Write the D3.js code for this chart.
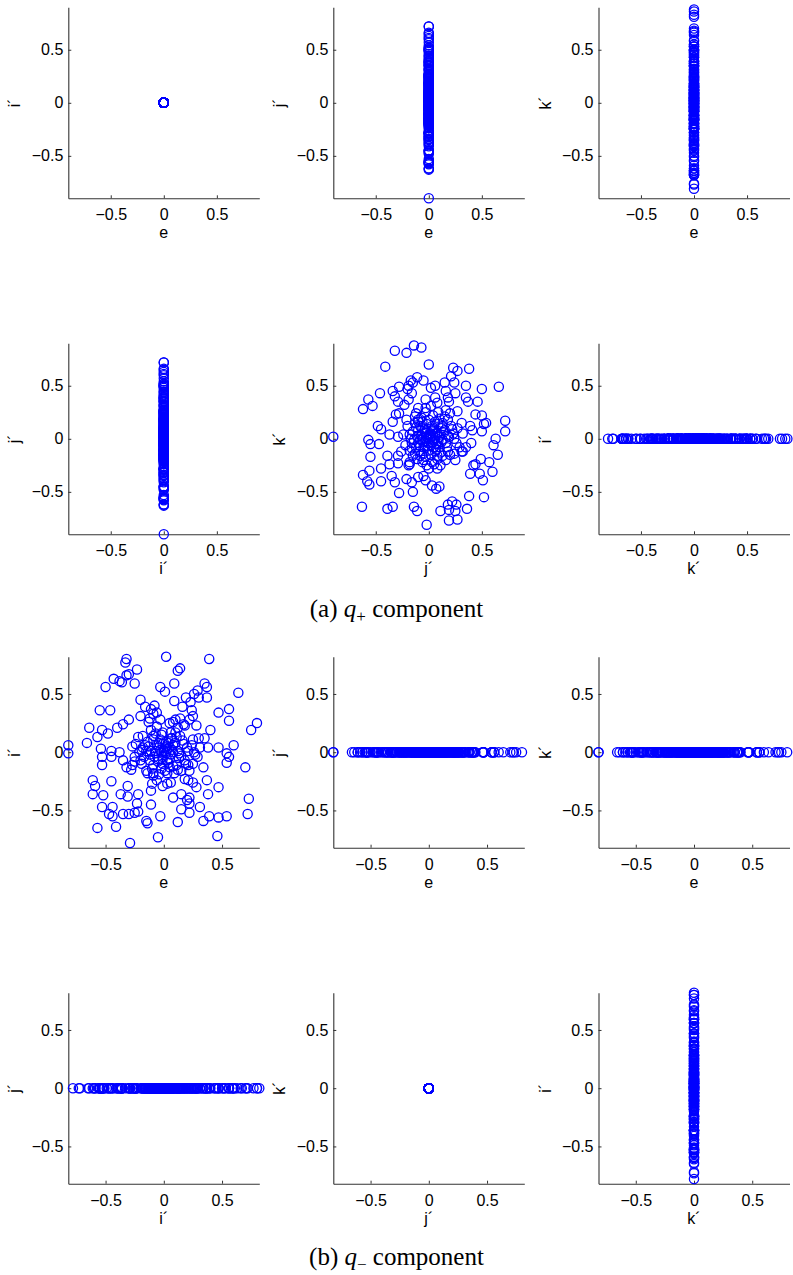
<!DOCTYPE html>
<html>
<head>
<meta charset="utf-8">
<script src="https://cdn.jsdelivr.net/npm/d3@7"></script>
<style>
  body { margin: 0; background: #fff; }
  svg { display: block; }
  .tick text { font-family: "Liberation Sans", Arial, sans-serif; font-size: 16px; fill: #000; }
  .axis-label { font-family: "Liberation Sans", Arial, sans-serif; font-size: 16px; fill: #000; }
  .caption { font-family: "Liberation Serif", "Times New Roman", serif; font-size: 25px; fill: #000; }
</style>
</head>
<body>
<div id="chart"></div>
<script>
// q+ component: [j', k'] pairs (e and i' are all zero)
const plusJK = [
  [-0.14,0.88],[-0.07,0.86],[-0.32,0.83],[-0.21,0.81],[-0.41,0.68],[0.00,0.70],[0.23,0.67],[0.27,0.64],[0.38,0.66],[0.21,0.59],
  [-0.11,0.58],[-0.17,0.55],[-0.15,0.53],[-0.46,0.43],[-0.34,0.45],[-0.28,0.49],[-0.19,0.50],[-0.20,0.47],[-0.16,0.43],[-0.05,0.55],
  [0.02,0.48],[0.06,0.50],[0.15,0.53],[0.16,0.45],[0.24,0.53],[0.25,0.43],[0.35,0.50],[0.35,0.39],[0.50,0.47],[0.66,0.49],
  [-0.57,0.37],[-0.62,0.28],[-0.53,0.31],[-0.32,0.40],[-0.29,0.35],[-0.23,0.32],[-0.19,0.37],[-0.03,0.37],[0.06,0.39],[0.08,0.34],
  [0.18,0.39],[0.19,0.35],[0.37,0.35],[0.46,0.35],[-0.10,0.29],[-0.03,0.29],[0.02,0.31],[0.16,0.27],[0.27,0.26],[0.44,0.23],
  [0.50,0.22],[0.54,0.15],[0.72,0.17],[0.72,0.07],[0.63,0.00],[0.61,-0.06],[0.65,-0.15],[-0.31,0.23],[-0.28,0.24],[-0.34,0.16],
  [-0.21,0.18],[-0.13,0.21],[-0.10,0.18],[-0.48,0.12],[-0.45,0.09],[-0.37,0.04],[-0.29,0.02],[-0.90,0.02],[-0.57,-0.01],[-0.55,-0.05],
  [-0.47,-0.05],[-0.55,-0.17],[-0.39,-0.16],[-0.29,-0.16],[-0.62,-0.34],[-0.56,-0.30],[-0.45,-0.28],[-0.58,-0.40],[-0.56,-0.43],[-0.45,-0.40],
  [-0.35,-0.35],[-0.32,-0.41],[-0.37,-0.24],[-0.29,-0.23],[-0.18,-0.24],[-0.28,-0.51],[-0.15,-0.50],[-0.21,-0.38],[-0.16,-0.41],[-0.10,-0.36],
  [-0.05,-0.35],[-0.03,-0.39],[0.03,-0.44],[0.07,-0.47],[0.10,-0.45],[-0.63,-0.64],[-0.39,-0.66],[-0.34,-0.64],[-0.14,-0.64],[-0.11,-0.68],
  [-0.02,-0.81],[0.11,-0.68],[0.18,-0.62],[0.22,-0.59],[0.26,-0.62],[0.25,-0.68],[0.19,-0.67],[0.19,-0.77],[0.27,-0.76],[0.36,-0.66],
  [0.38,-0.54],[0.52,-0.55],[0.39,-0.33],[0.42,-0.25],[0.44,-0.24],[0.48,-0.33],[0.51,-0.39],[0.49,-0.19],[0.57,-0.22],[0.60,-0.31],
  [0.32,-0.12],[0.35,-0.08],[0.40,-0.04],[0.25,-0.20],[0.39,0.12],[0.41,0.08],[0.50,0.07],[0.52,0.14],[0.31,0.15],[0.32,0.05],
  [-0.18,0.04],[-0.16,-0.04],[-0.18,-0.11],[-0.12,-0.08],[-0.08,-0.01],[-0.06,0.05],[-0.02,0.08],[0.03,0.12],[0.06,0.05],[0.10,0.02],
  [0.13,-0.01],[0.16,-0.04],[0.19,0.02],[0.23,0.05],[0.26,-0.04],[0.29,-0.08],[0.31,-0.12],[0.24,-0.14],[0.18,-0.12],[0.13,-0.16],
  [0.08,-0.19],[0.03,-0.22],[-0.02,-0.25],[-0.06,-0.22],[-0.11,-0.19],[-0.15,-0.16],[-0.05,-0.14],[0.00,-0.11],[0.05,-0.08],[0.00,-0.04],
  [-0.03,-0.02],[0.02,0.02],[0.05,-0.01],[-0.10,0.08],[-0.13,0.15],[-0.06,0.16],[0.00,0.18],[0.06,0.16],[0.13,0.15],[0.18,0.18],
  [0.15,0.08],[0.21,0.12],[0.00,-0.28],[0.08,-0.28],[0.11,-0.25],[-0.18,-0.22],[-0.19,-0.25],[-0.03,-0.17],[0.06,-0.12],[-0.10,-0.04],
  [0.10,-0.08],[-0.05,-0.08],[0.02,0.05],[-0.02,0.02],[0.03,-0.03],[0.01,0.00],[-0.01,0.01],[0.04,0.03],[-0.04,-0.03],[0.08,0.06],
  [-0.07,0.03],[0.09,-0.02],[-0.09,-0.06],[0.12,0.10],[-0.12,0.11],[0.07,-0.05],[-0.06,0.10],[0.11,0.04],[-0.14,-0.01],[0.04,0.09],
  [0.01,0.04],[-0.03,0.06],[0.05,0.10],[-0.08,0.12],[0.09,0.14],[-0.11,0.02],[0.12,-0.03],[-0.04,-0.07],[0.07,-0.10],[-0.09,-0.12],
  [0.14,0.06],[-0.15,0.07],[0.17,-0.08],[-0.16,-0.09],[0.02,-0.15],[-0.02,0.14],[0.10,0.19],[-0.07,0.20],[0.20,-0.15],[-0.20,0.12],
  [0.22,0.09],[-0.22,-0.06],[0.04,0.22],[-0.05,-0.20],[0.15,0.21],[-0.13,-0.14],[0.08,-0.16],[-0.01,-0.07],[0.03,0.07],[-0.06,-0.01],
  [0.06,0.01],[0.00,0.03],[0.02,-0.06],[-0.04,0.09],[0.11,-0.13],[-0.10,0.16],[0.18,0.03],[-0.17,0.00],[0.13,0.12],[-0.08,-0.16],
  [0.05,-0.24],[-0.12,0.24],[0.24,0.00],[0.27,0.10],[-0.24,0.04],[0.09,0.25],[0.20,0.24],[-0.26,-0.12],[0.16,-0.20],[-0.03,0.25]
]

// q- component: [e, i'] pairs (j' and k' are all zero)
const minusEI = [
  [-0.32,0.80],[-0.33,0.77],[0.02,0.82],[0.39,0.80],[-0.23,0.71],[-0.30,0.67],[-0.32,0.66],[-0.43,0.63],[-0.38,0.61],[-0.36,0.60],
  [-0.50,0.56],[-0.25,0.59],[-0.03,0.56],[0.01,0.52],[0.09,0.59],[0.12,0.70],[0.14,0.72],[0.35,0.59],[0.37,0.56],[0.29,0.53],
  [0.26,0.50],[0.37,0.47],[0.30,0.47],[0.64,0.51],[-0.20,0.45],[0.09,0.44],[0.19,0.47],[0.23,0.43],[-0.55,0.36],[-0.46,0.36],
  [-0.16,0.39],[-0.11,0.37],[-0.08,0.40],[-0.06,0.34],[0.16,0.39],[0.24,0.36],[0.25,0.31],[0.47,0.34],[0.56,0.37],[0.56,0.27],
  [0.80,0.25],[0.75,0.19],[-0.64,0.21],[-0.53,0.19],[-0.48,0.16],[-0.57,0.13],[-0.40,0.21],[-0.35,0.24],[-0.30,0.28],[-0.20,0.31],
  [-0.12,0.29],[-0.09,0.33],[0.08,0.26],[0.14,0.29],[0.18,0.23],[0.28,0.23],[0.40,0.19],[0.35,0.12],[0.38,0.04],[0.47,0.04],
  [0.60,0.06],[0.54,-0.01],[0.56,-0.04],[0.54,-0.09],[0.70,-0.13],[-0.82,0.06],[-0.82,-0.01],[-0.66,0.08],[-0.54,0.03],[-0.53,-0.04],
  [-0.45,0.01],[-0.45,-0.04],[-0.53,-0.11],[-0.38,0.00],[-0.35,-0.07],[-0.32,-0.13],[-0.27,-0.11],[-0.61,-0.24],[-0.59,-0.29],[-0.61,-0.36],
  [-0.52,-0.37],[-0.45,-0.25],[-0.53,-0.47],[-0.44,-0.47],[-0.47,-0.53],[-0.44,-0.55],[-0.57,-0.65],[-0.41,-0.64],[-0.37,-0.36],[-0.31,-0.29],
  [-0.31,-0.38],[-0.22,-0.36],[-0.23,-0.44],[-0.35,-0.53],[-0.30,-0.53],[-0.25,-0.52],[-0.22,-0.51],[-0.15,-0.59],[-0.14,-0.61],[-0.29,-0.78],
  [-0.11,-0.45],[-0.03,-0.55],[-0.05,-0.73],[0.12,-0.60],[0.15,-0.49],[0.22,-0.52],[0.20,-0.41],[0.22,-0.44],[0.22,-0.39],[0.31,-0.47],
  [0.38,-0.36],[0.47,-0.30],[0.37,-0.24],[0.34,-0.13],[0.34,-0.59],[0.39,-0.55],[0.47,-0.56],[0.54,-0.55],[0.46,-0.72],[0.72,-0.53],
  [0.73,-0.40],[0.08,-0.39],[0.15,-0.36],[-0.11,-0.33],[-0.10,-0.27],[-0.01,-0.29],[0.03,-0.27],[0.28,-0.30],[0.25,-0.26],[0.21,-0.24],
  [-0.18,0.04],[-0.15,0.01],[-0.17,-0.04],[-0.12,-0.07],[-0.09,-0.11],[-0.07,-0.01],[-0.04,0.04],[-0.01,0.07],[0.02,0.09],[0.05,0.04],
  [0.08,0.00],[0.12,0.01],[0.15,-0.03],[0.18,-0.07],[0.21,0.01],[0.24,0.06],[0.26,0.00],[0.29,-0.04],[0.31,0.04],[0.16,0.10],
  [0.11,0.13],[0.06,0.17],[-0.01,0.17],[-0.07,0.16],[-0.09,0.11],[-0.14,0.09],[-0.21,0.00],[-0.20,-0.07],[-0.15,-0.16],[-0.09,-0.20],
  [-0.04,-0.19],[0.01,-0.16],[0.05,-0.13],[0.11,-0.11],[0.15,-0.16],[0.21,-0.11],[0.25,-0.10],[-0.18,0.14],[-0.24,0.07],[-0.25,-0.04],
  [-0.01,-0.04],[0.02,-0.01],[-0.02,0.00],[-0.05,-0.06],[0.05,-0.06],[0.08,0.06],[-0.01,-0.10],[-0.11,0.01],[0.03,0.03],[-0.03,0.02],
  [0.00,0.01],[0.06,-0.02],[-0.06,0.06],[0.10,0.08],[-0.08,-0.04],[0.04,-0.09],[0.13,-0.05],[-0.13,0.05],[0.07,0.12],[-0.02,-0.14],
  [0.02,0.05],[-0.04,0.08],[0.06,0.12],[-0.09,0.14],[0.10,0.17],[-0.12,-0.02],[0.13,-0.01],[-0.05,-0.08],[0.08,-0.12],[-0.10,-0.14],
  [0.17,0.07],[-0.16,0.06],[0.19,-0.10],[-0.19,-0.10],[0.03,-0.18],[-0.02,0.15],[0.12,0.21],[-0.06,0.22],[0.22,-0.16],[-0.22,0.13],
  [0.25,0.11],[-0.25,-0.08],[0.05,0.25],[-0.06,-0.24],[0.17,0.24],[-0.14,-0.18],[0.09,-0.18],[-0.01,-0.06],[0.04,0.08],[-0.07,0.01],
  [0.07,0.02],[0.01,0.04],[0.03,-0.07],[-0.03,0.11],[0.12,-0.15],[-0.11,0.19],[0.20,0.04],[-0.19,0.02],[0.14,0.14],[-0.09,-0.18],
  [0.06,-0.26],[-0.13,0.26],[0.27,-0.02],[0.30,0.12],[-0.27,0.05],[0.10,0.28],[0.22,0.28],[-0.28,-0.15],[0.18,-0.23],[-0.03,0.28]
]

const tickValues = [-0.5, 0, 0.5]
const compLabels = { e: "e", i: "i\u00b4", j: "j\u00b4", k: "k\u00b4" }
// [x component, y component] for the six panels of each block
const panelPairs = [["e", "i"], ["e", "j"], ["e", "k"], ["i", "j"], ["j", "k"], ["k", "i"]]
const captionTags = ["(a)", "(b)"]
const captionSigns = ["+", "\u2212"]

const width = 793
const height = 1275
const colLeft = [68.3, 333.3, 598.5]
const rowTop = [7.3, 343.3, 656.7, 992.7]
const plotSize = 191
const fmt = d3.format("")

const svg = d3.select("#chart").append("svg")
  .attr("width", width).attr("height", height)

const zeroPlus = plusJK.map(() => 0)
const zeroMinus = minusEI.map(() => 0)

const blocks = [
  { comps: { e: zeroPlus, i: zeroPlus, j: plusJK.map(d => d[0]), k: plusJK.map(d => d[1]) },
    lim: 0.9, rows: [0, 1], capY: 617 },
  { comps: { e: minusEI.map(d => d[0]), i: minusEI.map(d => d[1]), j: zeroMinus, k: zeroMinus },
    lim: 0.82, rows: [2, 3], capY: 1265 }
]

blocks.forEach((block, b) => {
  const x = d3.scaleLinear().domain([-block.lim, block.lim]).range([0, plotSize])
  const y = d3.scaleLinear().domain([-block.lim, block.lim]).range([plotSize, 0])

  panelPairs.forEach(([xc, yc], p) => {
    const row = block.rows[Math.floor(p / 3)]
    const col = p % 3
    const g = svg.append("g").attr("transform", `translate(${colLeft[col]},${rowTop[row]})`)

    const xAx = g.append("g").attr("transform", `translate(0,${plotSize})`)
      .call(d3.axisBottom(x).tickValues(tickValues).tickFormat(fmt)
        .tickSizeInner(-3).tickSizeOuter(0).tickPadding(10.5))
    const yAx = g.append("g")
      .call(d3.axisLeft(y).tickValues(tickValues).tickFormat(fmt)
        .tickSizeInner(-3).tickSizeOuter(0).tickPadding(5))
    ;[xAx, yAx].forEach(a => {
      a.attr("font-family", null).attr("font-size", null)
      a.select(".domain").attr("stroke", "#333").attr("stroke-width", 1.1)
      a.selectAll(".tick line").attr("stroke", "#333")
    })

    g.append("text").attr("class", "axis-label")
      .attr("x", plotSize / 2).attr("y", plotSize + 40)
      .attr("text-anchor", "middle").text(compLabels[xc])
    g.append("text").attr("class", "axis-label")
      .attr("transform", `translate(-48,${plotSize / 2}) rotate(-90)`)
      .attr("text-anchor", "middle").text(compLabels[yc])

    const xs = block.comps[xc]
    const ys = block.comps[yc]
    g.append("g").selectAll("circle")
      .data(d3.range(xs.length))
      .join("circle")
      .attr("cx", i => x(xs[i]))
      .attr("cy", i => y(ys[i]))
      .attr("r", 4.6)
      .attr("fill", "none")
      .attr("stroke", "#0000ff")
      .attr("stroke-width", 1.3)
  })

  const cap = svg.append("text").attr("class", "caption")
    .attr("x", width / 2).attr("y", block.capY).attr("text-anchor", "middle")
  cap.append("tspan").text(captionTags[b] + " ")
  cap.append("tspan").attr("font-style", "italic").text("q")
  cap.append("tspan").attr("font-size", "17px").attr("dy", 5).text(captionSigns[b])
  cap.append("tspan").attr("dy", -5).text(" component")
})
</script>
</body>
</html>
